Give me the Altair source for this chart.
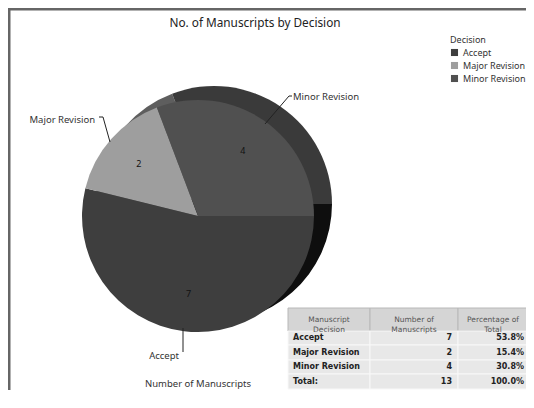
import math
import altair as alt
import pandas as pd

# ---- data ----
decisions = ["Accept", "Major Revision", "Minor Revision"]
counts = [7, 2, 4]
percent_labels = ["53.8%", "15.4%", "30.8%"]
total_label = "Total:"
total_count = 13
total_percent = "100.0%"
table_headers = ["Manuscript\nDecision", "Number of\nManuscripts", "Percentage of\nTotal"]

top_colors = ["#3e3e3e", "#9e9e9e", "#505050"]
side_colors = ["#0e0e0e", "#5e5e5e", "#3a3a3a"]

W, H = 518, 382
FONT = "Noto Sans"
TFONT = "DejaVu Sans"

pie = pd.DataFrame({
    "decision": decisions,
    "count": counts,
    "idx": list(range(len(decisions))),
    "side": side_colors,
})

theta = alt.Theta("count:Q", stack=True,
                  scale=alt.Scale(range=[math.pi / 2, math.pi / 2 + 2 * math.pi]))
order = alt.Order("idx:Q", sort="ascending")

# pie geometry (layout)
CX, CY, R = 190, 208, 116
SX, SY, SR = 206, 196, 118

side = alt.Chart(pie).mark_arc(outerRadius=SR).encode(
    theta=theta, order=order,
    fill=alt.Fill("side:N", scale=None),
    x=alt.value(SX), y=alt.value(SY),
)

top = alt.Chart(pie).mark_arc(outerRadius=R).encode(
    theta=theta, order=order,
    color=alt.Color("decision:N",
                    scale=alt.Scale(domain=decisions, range=top_colors),
                    legend=alt.Legend(
                        title="Decision", orient="none", legendX=442, legendY=28,
                        titleFont=FONT, titleFontSize=9, titleFontWeight="normal",
                        titleColor="#333", titlePadding=3,
                        labelFont=FONT, labelFontSize=9, labelColor="#333",
                        labelOffset=4,
                        symbolType="square", symbolSize=50, symbolStrokeWidth=0,
                        rowPadding=3, padding=0)),
    x=alt.value(CX), y=alt.value(CY),
)

vals = alt.Chart(pie).mark_text(radius=79, font=FONT, fontSize=9, color="#111").encode(
    theta=theta, order=order, text="count:Q",
    x=alt.value(CX), y=alt.value(CY),
)

# ---- titles & labels ----
def txt(s, x, y, size=9.5, align="left", color="#333", weight="normal", font=FONT):
    return alt.Chart(pd.DataFrame({"t": [s]})).mark_text(
        align=align, baseline="middle", fontSize=size, color=color,
        fontWeight=weight, font=font).encode(
        text="t:N", x=alt.value(x), y=alt.value(y))

title = txt("No. of Manuscripts by Decision", 247, 15, size=11.8, align="center", color="#222")
lab_minor = txt("Minor Revision", 285, 89)
lab_major = txt("Major Revision", 87, 112, align="right")
lab_accept = txt("Accept", 171, 348, align="right")
axis_title = txt("Number of Manuscripts", 190, 376, size=9.5, align="center")

def seg(x1, y1, x2, y2, color="#222", w=1):
    return alt.Chart(pd.DataFrame({"a": [0]})).mark_rule(color=color, strokeWidth=w).encode(
        x=alt.value(x1), y=alt.value(y1), x2=alt.value(x2), y2=alt.value(y2))

leaders = [
    seg(91, 109, 95, 109), seg(95, 109, 102, 134),
    seg(284, 88, 281, 88), seg(281, 88, 257, 116),
    seg(175, 320, 175, 344),
]

# frame (layout)
frame = [
    seg(1, 0, 1, H, color="#666", w=3),
    seg(0, 1, W, 1, color="#666", w=3),
]

# ---- table ----
col_x = [280, 362, 450, 540]
row_y = [300, 323, 337, 352, 366, 381]
cells = []
for r in range(5):
    for c in range(3):
        cells.append({"x0": col_x[c], "x1": col_x[c + 1], "y0": row_y[r], "y1": row_y[r + 1],
                      "fill": "#d5d5d5" if r == 0 else "#e8e8e8",
                      "stroke": "#b8b8b8" if r == 0 else "#f8f8f8"})
cells = pd.DataFrame(cells)
cell_layer = alt.Chart(cells).mark_rect(strokeWidth=1).encode(
    x=alt.X("x0:Q", scale=None, axis=None), x2="x1:Q",
    y=alt.Y("y0:Q", scale=None, axis=None), y2="y1:Q",
    fill=alt.Fill("fill:N", scale=None), stroke=alt.Stroke("stroke:N", scale=None),
)

hdr = pd.DataFrame({
    "t": table_headers,
    "x": [(col_x[i] + col_x[i + 1]) / 2 for i in range(2)] + [(450 + 520) / 2],
    "y": [(row_y[0] + row_y[1]) / 2] * 3,
})
hdr_layer = alt.Chart(hdr).mark_text(font=TFONT, fontSize=7.5, color="#555", lineBreak="\n",
                                     align="center", baseline="middle", lineHeight=10).encode(
    text="t:N", x=alt.X("x:Q", scale=None, axis=None), y=alt.Y("y:Q", scale=None, axis=None))

rows = pd.DataFrame({
    "name": decisions + [total_label],
    "num": [str(v) for v in counts] + [str(total_count)],
    "pct": percent_labels + [total_percent],
    "y": [(row_y[i] + row_y[i + 1]) / 2 for i in range(1, 5)],
})
tstyle = dict(font=TFONT, fontSize=8, fontWeight="bold", color="#222", baseline="middle")
name_layer = alt.Chart(rows).mark_text(align="left", **tstyle).encode(
    text="name:N", x=alt.value(285), y=alt.Y("y:Q", scale=None, axis=None))
num_layer = alt.Chart(rows).mark_text(align="right", **tstyle).encode(
    text="num:N", x=alt.value(444), y=alt.Y("y:Q", scale=None, axis=None))
pct_layer = alt.Chart(rows).mark_text(align="right", **tstyle).encode(
    text="pct:N", x=alt.value(516), y=alt.Y("y:Q", scale=None, axis=None))

chart = alt.layer(
    *frame, side, top, vals, title, lab_minor, lab_major, lab_accept, axis_title,
    *leaders, cell_layer, hdr_layer, name_layer, num_layer, pct_layer,
).properties(
    width=W, height=H, autosize=alt.AutoSizeParams(type="none"), padding=0,
).configure_view(strokeWidth=0)

chart.save("out.html", embed_options={"renderer": "svg", "actions": False})
